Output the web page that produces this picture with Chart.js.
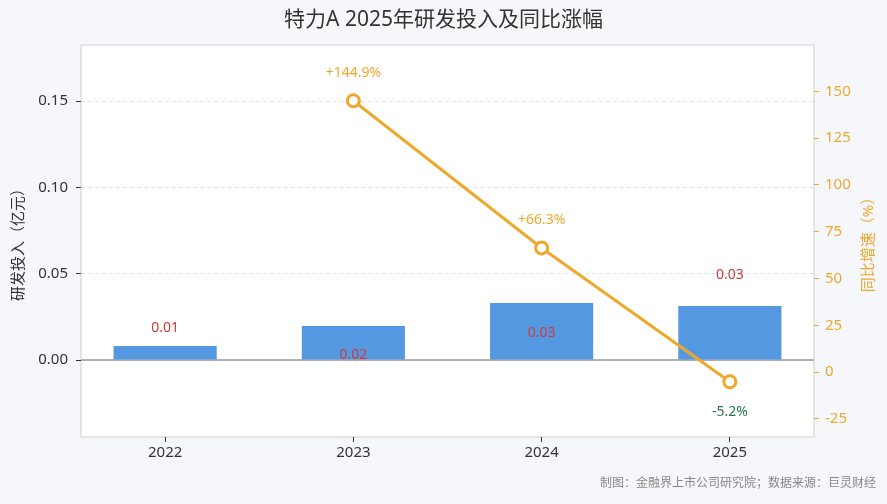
<!DOCTYPE html>
<html>
<head>
<meta charset="utf-8">
<script src="https://cdn.jsdelivr.net/npm/chart.js@4/dist/chart.umd.min.js"></script>
<style>
	html, body { margin: 0; padding: 0; background: #f5f7fa; }
	#wrap { width: 887px; height: 504px; }
</style>
</head>
<body>
<div id="wrap"><canvas id="chart"></canvas></div>
<script>
const years = ['2022', '2023', '2024', '2025'];
const rdSpend = [0.0081, 0.0197, 0.033, 0.0313];
const rdLabels = ['0.01', '0.02', '0.03', '0.03'];
const rdLabelShift = [-18, 29, 30, -31];
const growth = [null, 144.9, 66.3, -5.2];
const growthLabels = [null, '+144.9%', '+66.3%', '-5.2%'];
const leftTicks = [0, 0.05, 0.10, 0.15];
const rightTicks = [-25, 0, 25, 50, 75, 100, 125, 150];

const FONT = '"Noto Sans", "Noto Sans CJK SC", sans-serif';
const ORANGE = '#eea92d';
const BLUE = '#5598e2';

const decor = {
	id: 'decor',
	beforeDraw(chart) {
		const ctx = chart.ctx;
		const a = chart.chartArea;
		ctx.save();
		ctx.fillStyle = '#f5f7fa';
		ctx.fillRect(0, 0, chart.width, chart.height);
		ctx.fillStyle = '#ffffff';
		ctx.fillRect(a.left, a.top, a.right - a.left, a.bottom - a.top);
		ctx.strokeStyle = '#dcdde0';
		ctx.lineWidth = 1.5;
		ctx.strokeRect(a.left, a.top, a.right - a.left, a.bottom - a.top);
		ctx.fillStyle = '#333';
		ctx.font = '21px ' + FONT;
		ctx.textAlign = 'center';
		ctx.textBaseline = 'middle';
		ctx.fillText('特力A 2025年研发投入及同比涨幅', chart.width / 2, 20);
		ctx.fillStyle = '#888';
		ctx.font = '12px ' + FONT;
		ctx.textAlign = 'right';
		ctx.fillText('制图：金融界上市公司研究院；数据来源：巨灵财经', 876, 484);
		// right axis title, reading bottom to top like the left one
		ctx.fillStyle = ORANGE;
		ctx.font = '15px ' + FONT;
		ctx.textAlign = 'center';
		ctx.translate(869, (a.top + a.bottom) / 2);
		ctx.rotate(-Math.PI / 2);
		ctx.fillText('同比增速（%）', 0, 0);
		ctx.restore();
	},
	beforeDatasetsDraw(chart) {
		const ctx = chart.ctx;
		const a = chart.chartArea;
		const y0 = chart.scales.bar.getPixelForValue(0);
		ctx.save();
		ctx.strokeStyle = '#9a9a9a';
		ctx.lineWidth = 1.5;
		ctx.beginPath();
		ctx.moveTo(a.left, y0);
		ctx.lineTo(a.right, y0);
		ctx.stroke();
		ctx.restore();
	},
	afterDatasetsDraw(chart) {
		const ctx = chart.ctx;
		ctx.save();
		ctx.font = '14px ' + FONT;
		ctx.textAlign = 'center';
		ctx.textBaseline = 'middle';
		chart.getDatasetMeta(1).data.forEach((bar, i) => {
			ctx.fillStyle = '#d2393c';
			ctx.fillText(rdLabels[i], bar.x, bar.y + rdLabelShift[i]);
		});
		chart.getDatasetMeta(0).data.forEach((pt, i) => {
			if(growth[i] === null) return;
			ctx.fillStyle = growth[i] < 0 ? '#2a7a4a' : ORANGE;
			ctx.fillText(growthLabels[i], pt.x, pt.y + (growth[i] < 0 ? 30 : -28));
		});
		ctx.restore();
	}
};

new Chart(document.getElementById('chart'), {
	type: 'bar',
	plugins: [decor],
	data: {
		datasets: [
			{
				type: 'line',
				label: '同比增速',
				data: growth.map((v, i) => ({ x: i, y: v })),
				yAxisID: 'line',
				borderColor: ORANGE,
				borderWidth: 3,
				pointRadius: 6,
				pointBorderWidth: 3,
				pointBackgroundColor: '#ffffff',
				pointBorderColor: ORANGE,
				spanGaps: false,
				order: 0
			},
			{
				label: '研发投入',
				data: rdSpend.map((v, i) => ({ x: i, y: v })),
				yAxisID: 'bar',
				backgroundColor: BLUE,
				barPercentage: 0.548,
				categoryPercentage: 1,
				order: 1
			}
		]
	},
	options: {
		responsive: true,
		maintainAspectRatio: false,
		animation: { duration: 0 },
		layout: { padding: { top: 45, bottom: 31, left: 0, right: 0 } },
		plugins: {
			legend: { display: false },
			tooltip: { enabled: false }
		},
		scales: {
			x: {
				type: 'linear',
				offset: false,
				min: -0.447,
				max: 3.447,
				afterBuildTicks: s => { s.ticks = years.map((y, i) => ({ value: i })); },
				grid: { offset: false, drawOnChartArea: false, tickLength: 5, tickColor: '#333' },
				border: { display: false },
				ticks: {
					color: '#333',
					font: { family: FONT, size: 15 },
					padding: 2,
					callback: v => years[v]
				},
				afterFit: s => { s.height = 36; }
			},
			bar: {
				position: 'left',
				min: -0.0446,
				max: 0.1825,
				afterBuildTicks: s => { s.ticks = leftTicks.map(v => ({ value: v })); },
				grid: { color: '#e3e3e3', tickColor: '#333', tickLength: 5 },
				border: { display: false, dash: [4, 3] },
				ticks: {
					color: '#333',
					font: { family: FONT, size: 15 },
					padding: 8,
					callback: v => v.toFixed(2)
				},
				title: {
					display: true,
					text: '研发投入（亿元）',
					color: '#333',
					font: { family: FONT, size: 15 },
					padding: { top: 10, bottom: 0 }
				},
				afterFit: s => { s.width = 81; }
			},
			line: {
				position: 'right',
				min: -34.7,
				max: 174.7,
				afterBuildTicks: s => { s.ticks = rightTicks.map(v => ({ value: v })); },
				grid: { drawOnChartArea: false, tickColor: ORANGE, tickLength: 5 },
				border: { display: false },
				ticks: { color: ORANGE, font: { family: FONT, size: 15 }, padding: 6 },
				afterFit: s => { s.width = 73; }
			}
		}
	}
});
</script>
</body>
</html>
